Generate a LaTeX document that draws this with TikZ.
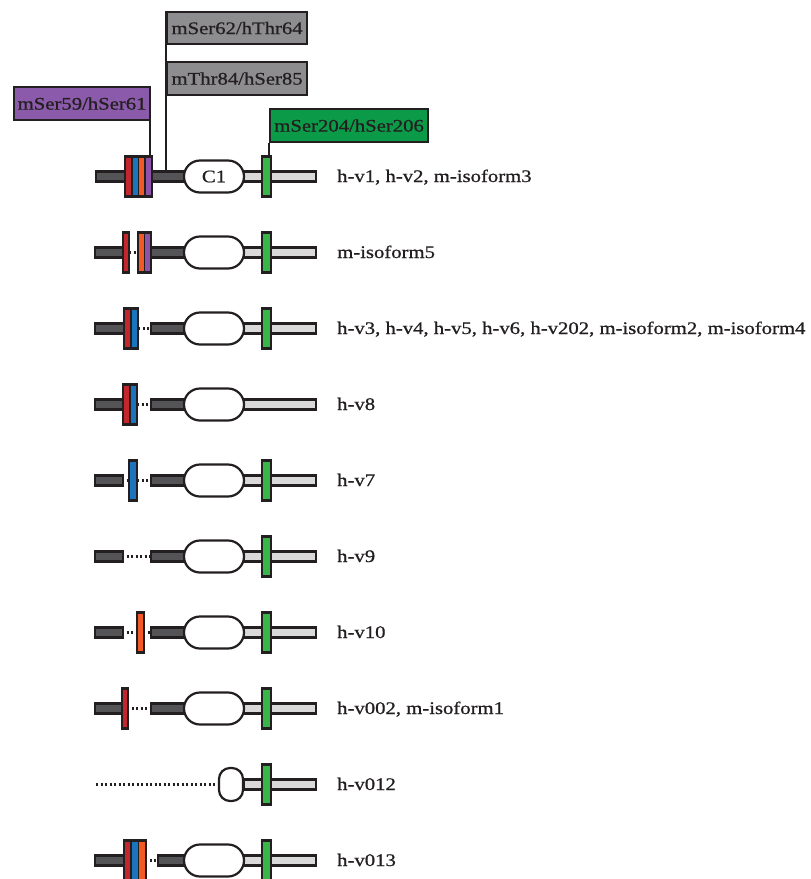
\documentclass[tikz,border=0pt]{standalone}
\usepackage{fontspec}
\setmainfont{Liberation Serif}[FakeStretch=1.17, FakeBold=0.8]
\definecolor{outl}{HTML}{231F20}
\definecolor{dgray}{HTML}{545457}
\definecolor{lgray}{HTML}{D9D9D9}
\definecolor{cred}{HTML}{C1272D}
\definecolor{cblue}{HTML}{1C75BC}
\definecolor{corange}{HTML}{F15A24}
\definecolor{cpurple}{HTML}{8E52A8}
\definecolor{cgreen}{HTML}{3AB54A}
\definecolor{lblgray}{HTML}{8D8D8F}
\definecolor{lblpurple}{HTML}{8B5AAA}
\definecolor{lblgreen}{HTML}{0B9B48}
\tikzset{
  ol/.style={draw=outl, line width=2.2pt},
  darkbar/.style={ol, fill=dgray},
  lightbar/.style={ol, fill=lgray},
  dom/.style={ol, fill=white, rounded corners=16pt},
  smalldom/.style={ol, fill=white, rounded corners=11pt},
  dotline/.style={draw=outl, line width=2.4pt, dash pattern=on 2.4pt off 2.1pt},
  stripe/.style={draw=outl, line width=1.7pt},
  blockframe/.style={ol, rectangle, inner sep=0pt, minimum height=40pt},
  greenblk/.style={ol, rectangle, fill=cgreen, inner sep=0pt, minimum width=9pt, minimum height=40pt},
  lbl/.style={ol, rectangle, inner sep=0pt, text height=12pt, text depth=0pt,
    font=\fontsize{17.7}{20}\selectfont, text=outl, anchor=north west},
  isoname/.style={anchor=base west, font=\fontsize{17.7}{20}\selectfont, text=outl, inner sep=0pt},
  conn/.style={draw=outl, line width=2.2pt},
}
\newcommand\DkBar[2]{\path[darkbar] (#1,-5) rectangle (#2,5);}
\newcommand\LtBar{\path[lightbar] (244,-5) rectangle (316,5);}
\newcommand\DomBox[1]{\path[dom] (184,-16) rectangle (244,16) node[midway, inner sep=0pt] (#1) {};}
\newcommand\Dts[2]{\path[dotline] (#1,0) -- (#2,0);}
\newcommand\Strp[3]{\path[stripe, fill=#3] (#1,-20) rectangle (#2,20);}
\newcommand\Grn[1]{\node[greenblk] (#1) at (266.5,0) {};}
\begin{document}
\begin{tikzpicture}[x=1pt,y=-1pt]
\useasboundingbox[fill=white] (0,0) rectangle (811,879);

% ---------- row 1
\begin{scope}[shift={(0,176.5)}]
  \DkBar{96}{184}
  \LtBar
  \DomBox{c1}
  \node[font=\fontsize{17.7}{20}\selectfont, text=outl, inner sep=0pt, anchor=base] (c1t) at (214,5.8) {C1};
  \Strp{125}{131.75}{cred}
  \Strp{131.75}{138.5}{cblue}
  \Strp{138.5}{145.25}{corange}
  \Strp{145.25}{152}{cpurple}
  \node[blockframe, minimum width=27pt] (blk1) at (138.5,0) {};
  \Grn{g1}
  \coordinate (bartop1) at (166,-5);
  \node[isoname] (t1) at (337,5.5) {h-v1, h-v2, m-isoform3};
\end{scope}

% ---------- labels
\node[lbl, fill=lblgray, minimum width=140pt, minimum height=32pt] (l62) at (166,11) {mSer62/hThr64};
\node[lbl, fill=lblgray, minimum width=140pt, minimum height=33pt] (l84) at (166,61) {mThr84/hSer85};
\node[lbl, fill=lblpurple, minimum width=136pt, minimum height=33pt] (l59) at (13,86) {mSer59/hSer61};
\node[lbl, fill=lblgreen, minimum width=158pt, minimum height=33pt] (l204) at (269,108) {mSer204/hSer206};
\draw[conn] (l62.north west) -- (bartop1);
\draw[conn] ([xshift=-1pt]l59.south east) -- ([xshift=-1pt]l59.south east |- blk1.north);
\draw[conn] (l204.south west) -- (l204.south west |- g1.north);

% ---------- row 2
\begin{scope}[shift={(0,252.5)}]
  \Dts{129}{138}
  \DkBar{95}{126}
  \DkBar{151}{184}
  \LtBar
  \DomBox{d2}
  \Strp{123}{129}{cred}
  \node[blockframe, minimum width=6pt] (b2a) at (126,0) {};
  \Strp{138}{144.5}{corange}
  \Strp{144.5}{151}{cpurple}
  \node[blockframe, minimum width=13pt] (b2b) at (144.5,0) {};
  \Grn{g2}
  \node[isoname] (t2) at (337,5.5) {m-isoform5};
\end{scope}

% ---------- row 3
\begin{scope}[shift={(0,328.5)}]
  \Dts{138}{152}
  \DkBar{95}{126}
  \DkBar{151}{184}
  \LtBar
  \DomBox{d3}
  \Strp{124}{131}{cred}
  \Strp{131}{138}{cblue}
  \node[blockframe, minimum width=14pt] (b3) at (131,0) {};
  \Grn{g3}
  \node[isoname] (t3) at (337,5.5) {h-v3, h-v4, h-v5, h-v6, h-v202, m-isoform2, m-isoform4};
\end{scope}

% ---------- row 4
\begin{scope}[shift={(0,404.5)}]
  \Dts{137}{152}
  \DkBar{95}{126}
  \DkBar{151}{184}
  \LtBar
  \DomBox{d4}
  \Strp{123}{130}{cred}
  \Strp{130}{137}{cblue}
  \node[blockframe, minimum width=14pt] (b4) at (130,0) {};
  \node[isoname] (t4) at (337,5.5) {h-v8};
\end{scope}

% ---------- row 5
\begin{scope}[shift={(0,480.5)}]
  \Dts{122}{130}
  \Dts{137}{152}
  \DkBar{95}{123}
  \DkBar{151}{184}
  \LtBar
  \DomBox{d5}
  \Strp{129}{137}{cblue}
  \node[blockframe, minimum width=8pt] (b5) at (133,0) {};
  \Grn{g5}
  \node[isoname] (t5) at (337,5.5) {h-v7};
\end{scope}

% ---------- row 6
\begin{scope}[shift={(0,556.5)}]
  \Dts{122}{152}
  \DkBar{95}{123}
  \DkBar{151}{184}
  \LtBar
  \DomBox{d6}
  \Grn{g6}
  \node[isoname] (t6) at (337,5.5) {h-v9};
\end{scope}

% ---------- row 7
\begin{scope}[shift={(0,632.5)}]
  \Dts{122}{138}
  \Dts{143}{152}
  \DkBar{95}{123}
  \DkBar{151}{184}
  \LtBar
  \DomBox{d7}
  \Strp{137}{144}{corange}
  \node[blockframe, minimum width=7pt] (b7) at (140.5,0) {};
  \Grn{g7}
  \node[isoname] (t7) at (337,5.5) {h-v10};
\end{scope}

% ---------- row 8
\begin{scope}[shift={(0,708.5)}]
  \Dts{127}{152}
  \DkBar{95}{124}
  \DkBar{151}{184}
  \LtBar
  \DomBox{d8}
  \Strp{122}{128}{cred}
  \node[blockframe, minimum width=6pt] (b8) at (125,0) {};
  \Grn{g8}
  \node[isoname] (t8) at (337,5.5) {h-v002, m-isoform1};
\end{scope}

% ---------- row 9
\begin{scope}[shift={(0,784.5)}]
  \Dts{96}{221}
  \LtBar
  \path[smalldom] (219,-16.5) rectangle (243,16.5) node[midway, inner sep=0pt] (d9) {};
  \Grn{g9}
  \node[isoname] (t9) at (337,5.5) {h-v012};
\end{scope}

% ---------- row 10
\begin{scope}[shift={(0,860.5)}]
  \Dts{145}{159}
  \DkBar{95}{126}
  \DkBar{158}{184}
  \LtBar
  \DomBox{d10}
  \Strp{124}{131}{cred}
  \Strp{131}{138.5}{cblue}
  \Strp{138.5}{146}{corange}
  \node[blockframe, minimum width=22pt] (b10) at (135,0) {};
  \Grn{g10}
  \node[isoname] (t10) at (337,5.5) {h-v013};
\end{scope}
\end{tikzpicture}
\end{document}
